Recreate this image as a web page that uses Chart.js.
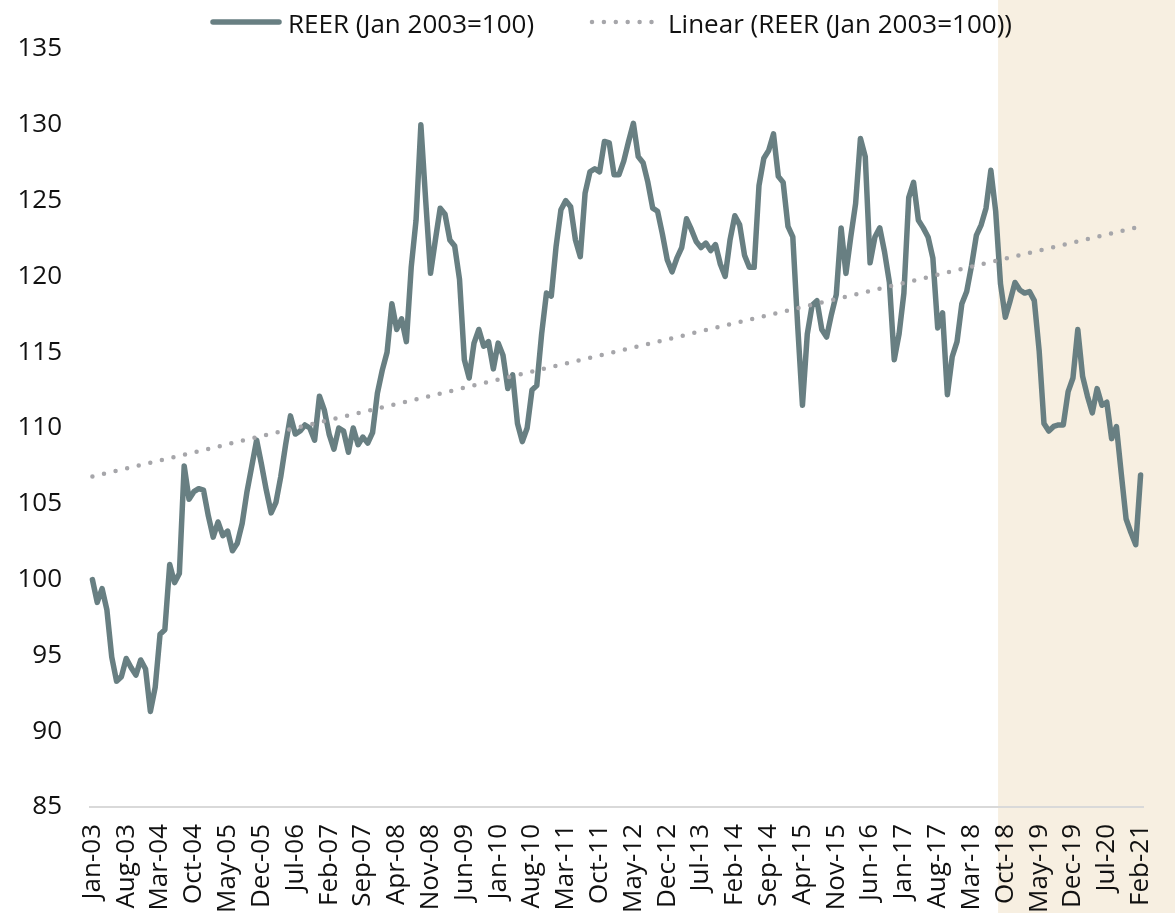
<!DOCTYPE html>
<html>
<head>
<meta charset="utf-8">
<script src="https://cdn.jsdelivr.net/npm/chart.js@4.4.1/dist/chart.umd.min.js"></script>
<style>
html,body{margin:0;padding:0;background:#fff}
canvas{display:block}
</style>
</head>
<body>
<canvas id="c" width="1175" height="913"></canvas>
<script>
// ---- categories (monthly, Jan-03 .. Feb-21) ----
const monthNames = ['Jan','Feb','Mar','Apr','May','Jun','Jul','Aug','Sep','Oct','Nov','Dec'];
const firstYear = 2003;
const pointCount = 218;
const categories = [];
for (let i = 0; i < pointCount; i++) {
  categories.push(monthNames[i % 12] + '-' + String((firstYear + Math.floor(i / 12)) % 100).padStart(2, '0'));
}

// ---- series values ----
const reer = [
  100.0, 98.5, 99.4, 98.0, 94.9, 93.3, 93.6, 94.8, 94.2, 93.7, 94.7, 94.1,
  91.3, 92.9, 96.4, 96.7, 101.0, 99.8, 100.4, 107.5, 105.3, 105.8, 106.0, 105.9,
  104.2, 102.8, 103.8, 102.9, 103.2, 101.9, 102.4, 103.7, 105.8, 107.5, 109.2, 107.6,
  105.9, 104.4, 105.1, 106.8, 108.9, 110.8, 109.6, 109.8, 110.2, 110.0, 109.2, 112.1,
  111.2, 109.6, 108.6, 110.0, 109.8, 108.4, 110.0, 108.9, 109.4, 109.0, 109.7, 112.3,
  113.8, 115.0, 118.2, 116.5, 117.2, 115.7, 120.6, 123.7, 130.0, 125.0, 120.2, 122.4,
  124.5, 124.1, 122.4, 122.0, 119.8, 114.5, 113.3, 115.6, 116.5, 115.4, 115.7, 113.9,
  115.6, 114.8, 112.6, 113.5, 110.3, 109.1, 110.0, 112.5, 112.8, 116.2, 118.9, 118.7,
  122.0, 124.4, 125.0, 124.6, 122.4, 121.3, 125.5, 126.9, 127.1, 126.9, 128.9, 128.8,
  126.7, 126.7, 127.6, 128.9, 130.1, 127.9, 127.5, 126.2, 124.5, 124.3, 122.8, 121.1,
  120.3, 121.2, 121.9, 123.8, 123.1, 122.3, 121.9, 122.2, 121.7, 122.1, 120.8, 120.0,
  122.4, 124.0, 123.4, 121.4, 120.6, 120.6, 126.0, 127.8, 128.3, 129.4, 126.6, 126.2,
  123.3, 122.6, 116.8, 111.5, 116.2, 118.1, 118.4, 116.5, 116.0, 117.5, 118.8, 123.2,
  120.2, 122.6, 124.8, 129.1, 127.9, 120.9, 122.6, 123.2, 121.6, 119.6, 114.5, 116.2,
  118.9, 125.2, 126.2, 123.7, 123.2, 122.6, 121.2, 116.6, 117.6, 112.2, 114.7, 115.7,
  118.2, 119.0, 120.7, 122.7, 123.4, 124.5, 127.0, 124.3, 119.5, 117.3, 118.4, 119.6,
  119.1, 118.9, 119.0, 118.4, 115.1, 110.3, 109.8, 110.1, 110.2, 110.2, 112.4, 113.3,
  116.5, 113.4, 112.1, 111.0, 112.6, 111.5, 111.7, 109.3, 110.1, 107.0, 104.0, 103.1,
  102.3, 106.9
];

// linear trend end points
const trendLabels = ['Jan-03', 'Feb-21'];
const trendValues = [106.8, 123.3];

// ---- tick labels ----
const tickLabels = ['Jan-03','Aug-03','Mar-04','Oct-04','May-05','Dec-05','Jul-06','Feb-07','Sep-07',
  'Apr-08','Nov-08','Jun-09','Jan-10','Aug-10','Mar-11','Oct-11','May-12','Dec-12','Jul-13','Feb-14',
  'Sep-14','Apr-15','Nov-15','Jun-16','Jan-17','Aug-17','Mar-18','Oct-18','May-19','Dec-19','Jul-20','Feb-21'];
const yTickValues = [85, 90, 95, 100, 105, 110, 115, 120, 125, 130, 135];

const seriesNames = ['REER (Jan 2003=100)', 'Linear (REER (Jan 2003=100))'];
const shadeFrom = 'Sep-18';

const COLORS = { line: '#687F82', trend: '#A6A6AA', shade: '#F7EFE1', text: '#111111', axis: '#D9D9D9' };
const FONT = "'Open Sans', 'DejaVu Sans', sans-serif";

Chart.defaults.font.family = FONT;
Chart.defaults.font.size = 26;
Chart.defaults.color = COLORS.text;

const shadePlugin = {
  id: 'shade',
  beforeDraw(chart) {
    const { ctx } = chart;
    const x = chart.scales.x;
    ctx.save();
    ctx.fillStyle = '#ffffff';
    ctx.fillRect(0, 0, chart.width, chart.height);
    const idx = categories.indexOf(shadeFrom);
    const half = (x.getPixelForValue(1) - x.getPixelForValue(0)) / 2;
    const x0 = x.getPixelForValue(idx) - half;
    ctx.fillStyle = COLORS.shade;
    ctx.fillRect(x0, 0, chart.width - x0, chart.height);
    ctx.restore();
  }
};

const legendPlugin = {
  id: 'customLegend',
  afterDraw(chart) {
    const ctx = chart.ctx;
    const ds = chart.data.datasets;
    const cy = 22;
    ctx.save();
    // item 1: solid line
    ctx.strokeStyle = ds[0].borderColor;
    ctx.lineWidth = ds[0].borderWidth;
    ctx.lineCap = 'round';
    ctx.beginPath();
    ctx.moveTo(213, cy);
    ctx.lineTo(279, cy);
    ctx.stroke();
    // item 2: dotted line
    ctx.strokeStyle = ds[1].borderColor;
    ctx.lineWidth = ds[1].borderWidth;
    ctx.setLineDash(ds[1].borderDash);
    ctx.beginPath();
    ctx.moveTo(592, cy);
    ctx.lineTo(654, cy);
    ctx.stroke();
    ctx.setLineDash([]);
    // texts
    ctx.fillStyle = COLORS.text;
    ctx.font = '26px ' + FONT;
    ctx.textBaseline = 'alphabetic';
    ctx.textAlign = 'left';
    ctx.fillText(ds[0].label, 288, 33);
    ctx.fillText(ds[1].label, 668, 33);
    ctx.restore();
  }
};

new Chart(document.getElementById('c'), {
  type: 'line',
  data: {
    labels: categories,
    datasets: [
      {
        label: seriesNames[0],
        data: reer,
        borderColor: COLORS.line,
        borderWidth: 5.5,
        pointRadius: 0,
        tension: 0,
        borderJoinStyle: 'round',
        borderCapStyle: 'round',
        fill: false,
        order: 1
      },
      {
        label: seriesNames[1],
        data: trendLabels.map((l, i) => ({ x: l, y: trendValues[i] })),
        borderColor: COLORS.trend,
        borderWidth: 4.5,
        borderDash: [0, 11.9],
        borderCapStyle: 'round',
        pointRadius: 0,
        fill: false,
        order: 0
      }
    ]
  },
  options: {
    responsive: false,
    animation: false,
    devicePixelRatio: 1,
    layout: { padding: { top: 49, right: 32, left: 0, bottom: 0 } },
    plugins: { legend: { display: false }, tooltip: { enabled: false } },
    scales: {
      x: {
        offset: true,
        grid: { display: false, drawTicks: false },
        border: { display: true, color: COLORS.axis, width: 2 },
        ticks: {
          autoSkip: false,
          maxRotation: 90,
          minRotation: 90,
          padding: 17,
          callback: function (v, i) {
            const l = categories[i];
            return tickLabels.includes(l) ? l : '';
          }
        },
        afterFit(s) { s.height = 106; s.paddingLeft = 0; s.paddingRight = 0; }
      },
      y: {
        min: 85,
        max: 135,
        grid: { display: false, drawTicks: false },
        border: { display: false },
        ticks: { padding: 28 },
        afterBuildTicks(s) { s.ticks = yTickValues.map(v => ({ value: v })); },
        afterFit(s) { s.width = 90; s.paddingTop = 0; s.paddingBottom = 0; }
      }
    }
  },
  plugins: [shadePlugin, legendPlugin]
});
</script>
</body>
</html>
